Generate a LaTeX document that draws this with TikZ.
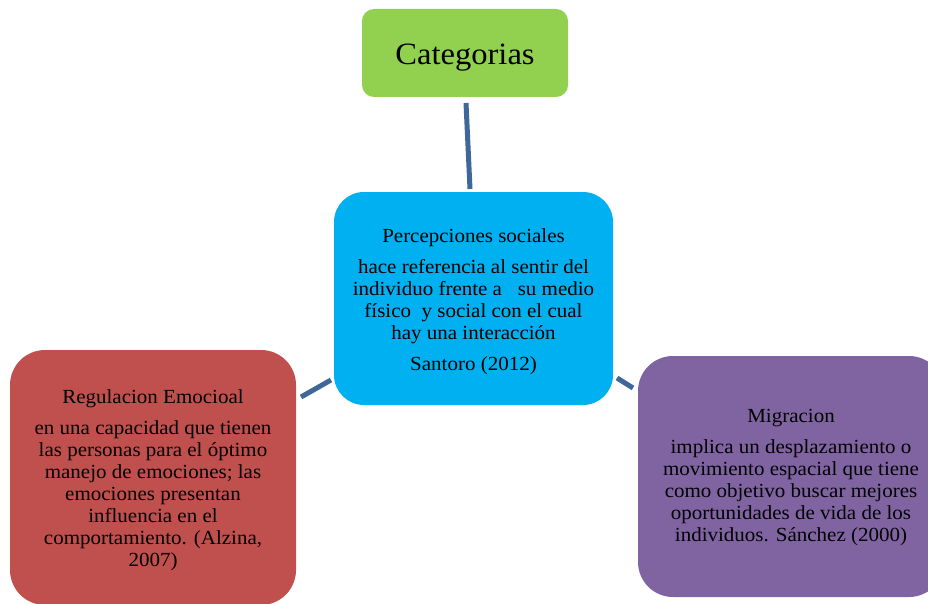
\documentclass[tikz,border=0pt]{standalone}
\usepackage{fontspec}
\setmainfont[FakeStretch=1.05]{Liberation Serif}
\definecolor{cgreen}{HTML}{92D050}
\definecolor{cblue}{HTML}{00B0F0}
\definecolor{cred}{HTML}{C0504D}
\definecolor{cpurple}{HTML}{8064A2}
\definecolor{cline}{HTML}{3F679A}
\tikzset{
  box/.style={rounded corners=#1, inner sep=0pt},
  txt/.style={inner sep=0pt, align=center, font=\fontsize{20}{22.1}\selectfont, text=black},
  conn/.style={draw=cline, line width=5pt}
}
\begin{document}
\begin{tikzpicture}[x=1pt,y=-1pt]
\useasboundingbox (0,0) rectangle (928,604);
\fill[white] (0,0) rectangle (928,604);
\node[box=12, fill=cgreen, minimum width=206pt, minimum height=88pt] (cat) at (465,53) {};
\node[txt, font=\fontsize{31}{34}\selectfont] (catt) at ([yshift=-5pt]cat.center) {Categorias};
\node[box=30, fill=cblue, minimum width=279pt, minimum height=213pt] (cen) at (473.5,298.5) {};
\node[txt] (cent) at ([yshift=-3pt]cen.center)
 {Percepciones sociales\\[8.5pt]hace referencia al sentir del\\individuo frente a\ \ \ su medio\\físico\ \ y social con el cual\\hay una interacción\\[8.5pt]Santoro (2012)};
\node[box=35, fill=cred, minimum width=286pt, minimum height=255pt] (reg) at (153,477.5) {};
\node[txt] (regt) at ([yshift=-3pt]reg.center)
 {Regulacion Emocioal\\[8.5pt]en una capacidad que tienen\\las personas para el óptimo\\manejo de emociones; las\\emociones presentan\\influencia en el\\comportamiento. (Alzina,\\2007)};
\node[box=35, fill=cpurple, minimum width=306pt, minimum height=241pt] (mig) at (791,476.5) {};
\node[txt] (migt) at ([yshift=-1.5pt]mig.center)
 {Migracion\\[8.5pt]implica un desplazamiento o\\movimiento espacial que tiene\\como objetivo buscar mejores\\oportunidades de vida de los\\individuos. Sánchez (2000)};
\coordinate (t1) at (466,103);
\coordinate (t2) at (470,189);
\coordinate (l1) at (301,397);
\coordinate (l2) at (331,380);
\coordinate (r1) at (617,378);
\coordinate (r2) at (633,388);
\draw[conn] (t1) -- (t2);
\draw[conn] (l1) -- (l2);
\draw[conn] (r1) -- (r2);
\end{tikzpicture}
\end{document}
